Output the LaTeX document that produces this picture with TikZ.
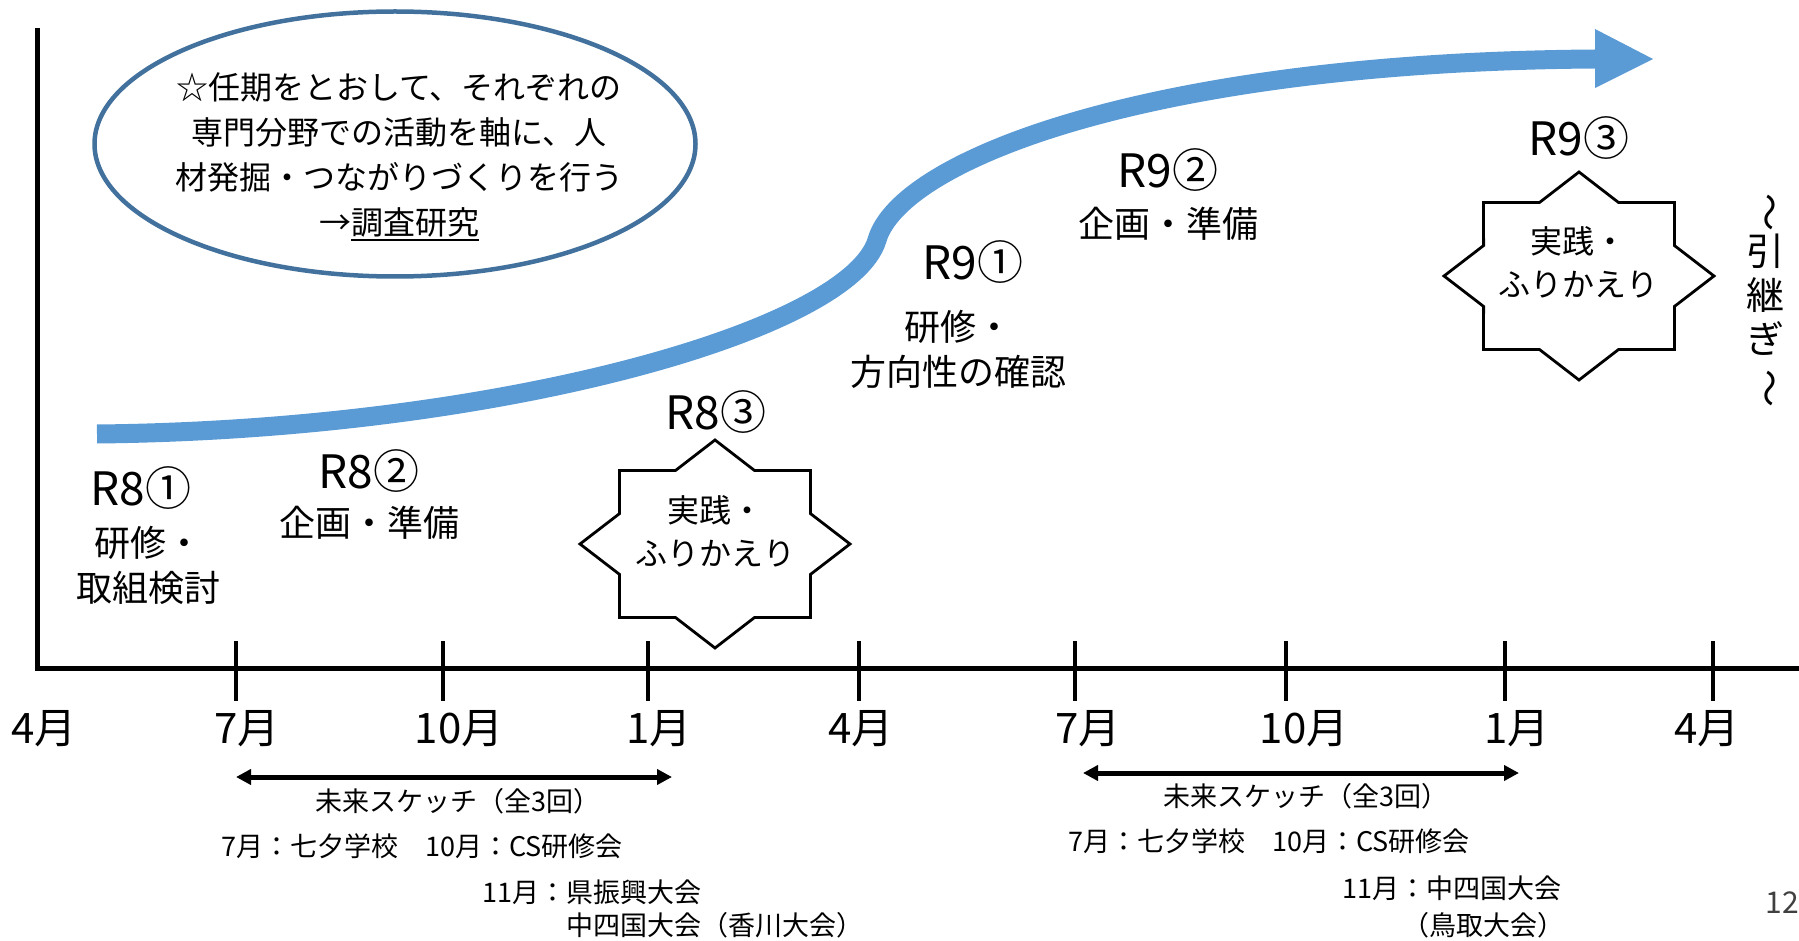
\documentclass[tikz,border=0pt]{standalone}
\usepackage{fontspec}
\setmainfont{Noto Sans CJK JP}
\usetikzlibrary{positioning,shapes.geometric,arrows.meta}

\definecolor{flowblue}{HTML}{5B9BD5}
\definecolor{ringblue}{HTML}{41719C}

\newcommand{\ulword}[1]{\setbox0\hbox{#1}\rlap{\rule[-3pt]{\wd0}{1.2pt}}\box0}

\tikzset{
  timeaxis/.style={line width=2.5pt},
  monthtick/.style={line width=2pt},
  monthlabel/.style={font=\fontsize{21}{24}\selectfont, inner sep=0pt},
  phaselabel/.style={font=\fontsize{23}{26}\selectfont, inner sep=0pt},
  tasktext/.style={font=\fontsize{18}{22.5}\selectfont, align=center, inner sep=0pt},
  sealtext/.style={font=\fontsize{16}{21.5}\selectfont, align=center, inner sep=0pt},
  notetext/.style={font=\fontsize{13.5}{20}\selectfont, align=left, inner sep=0pt},
  goalring/.style={ellipse, draw=ringblue, line width=2.25pt, minimum width=300.5pt, minimum height=132.5pt, inner sep=0pt},
  goaltext/.style={font=\fontsize{16}{22.5}\selectfont, align=center, inner sep=0pt},
  flowband/.style={draw=flowblue, line width=9.5pt},
  sealline/.style={draw, line width=1.4pt, line join=miter},
  sketchspan/.style={line width=2.5pt, {Triangle[length=7.5pt,width=7.5pt]}-{Triangle[length=7.5pt,width=7.5pt]}},
}

\begin{document}
\begin{tikzpicture}[x=0.5pt, y=-0.5pt]
\useasboundingbox (0,0) rectangle (1799,941);

% time axis
\draw[timeaxis] (37,28) -- (37,668) -- (1799,668);
\foreach \x in {236,443,648,859,1075,1286,1505,1713}
  \draw[monthtick] (\x,641) -- (\x,701);
\foreach \x/\m [count=\i] in {44/4月,247/7月,459/10月,659/1月,861/4月,1088/7月,1304/10月,1517/1月,1707/4月}
  \node[monthlabel] (m\i) at (\x,729) {\m};

% growth arrow
\coordinate (flowstart) at (97,434);
\coordinate (flowbend) at (877,240);
\coordinate (flowend) at (1595,59);
\draw[flowband] (flowstart) .. controls (500,430) and (850,330) .. (flowbend)
  .. controls (900,160) and (1150,62) .. (flowend);
\fill[flowblue] (1595,29) -- (1653,59) -- (1595,88) -- cycle;

% goal
\node[goalring] (goal) at (395,144) {};
\node[goaltext] (goaltext) at (399,157) {☆任期をとおして、それぞれの\\専門分野での活動を軸に、人\\材発掘・つながりづくりを行う\\→\ulword{調査研究}};

% practice stars
\foreach \cx/\cy in {715/544,1579/276}
  \draw[sealline, shift={(\cx,\cy)}] (0,104)
    \foreach \k [evaluate=\k as \ang using {90+22.5*\k},
                 evaluate=\k as \rr using {1-0.235*mod(\k,2)}] in {1,...,15}
      { -- ({135*\rr*cos(\ang)},{104*\rr*sin(\ang)}) } -- cycle;

% R8
\node[phaselabel] (r81) at (141,488) {R8①};
\node[tasktext] (r81txt) at (148,565) {研修・\\取組検討};
\node[phaselabel] (r82) at (369,471) {R8②};
\node[tasktext] (r82txt) at (369,523) {企画・準備};
\node[phaselabel] (r83) at (716,412) {R8③};
\node[sealtext] (r83txt) at (715,531) {実践・\\ふりかえり};

% R9
\node[phaselabel] (r91) at (973,262) {R9①};
\node[tasktext] (r91txt) at (958,349) {研修・\\方向性の確認};
\node[phaselabel] (r92) at (1168,170) {R9②};
\node[tasktext] (r92txt) at (1168,224) {企画・準備};
\node[phaselabel] (r93) at (1579,138) {R9③};
\node[sealtext] (r93txt) at (1578,262) {実践・\\ふりかえり};

\node[font=\fontsize{19}{22}\selectfont, align=center, inner sep=0pt] (handover) at (1765,300)
  {\rotatebox[origin=c]{-90}{～}\\引\\継\\ぎ\\\rotatebox[origin=c]{-90}{～}};

% future sketch
\coordinate (sk1a) at (236,777);
\coordinate (sk1b) at (672,777);
\coordinate (sk2a) at (1083,773);
\coordinate (sk2b) at (1519,773);
\draw[sketchspan] (sk1a) -- (sk1b);
\draw[sketchspan] (sk2a) -- (sk2b);
\node[notetext] (sk1) at (458,801) {未来スケッチ（全3回）};
\node[notetext] (sk2) at (1306,796) {未来スケッチ（全3回）};
\node[notetext] (ev1) at (422,846) {7月：七夕学校　10月：CS研修会};
\node[notetext] (ev2) at (1269,841) {7月：七夕学校　10月：CS研修会};
\node[notetext, anchor=west] (tz1) at (482,892) {11月：県振興大会};
\node[notetext, anchor=west] (tz1b) at (566,925) {中四国大会（香川大会）};
\node[notetext, anchor=west] (tz2) at (1342,888) {11月：中四国大会};
\node[notetext, anchor=west] (tz2b) at (1402,925) {（鳥取大会）};

\node[font=\fontsize{15}{18}\selectfont, text=black!75, inner sep=0pt] (page) at (1782,903) {12};
\end{tikzpicture}
\end{document}
